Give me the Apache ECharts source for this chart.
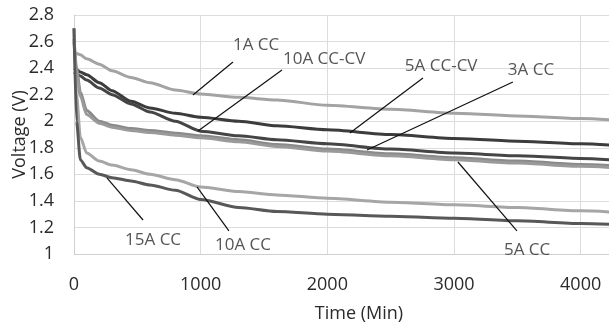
<!DOCTYPE html>
<html>
<head>
<meta charset="utf-8">
<script src="https://cdn.jsdelivr.net/npm/echarts@6/dist/echarts.min.js"></script>
<style>
html,body{margin:0;padding:0;background:#fff;}
#chart{width:609px;height:327px;}
</style>
</head>
<body>
<div id="chart"></div>
<script>
// ---- data ----
var time = [0, 20, 50, 100, 200, 300, 450, 600, 800, 1000, 1300, 1600, 2000, 2500, 3000, 3500, 4000, 4500];
var seriesNames = ['1A CC', '5A CC-CV', '10A CC-CV', '3A CC', '5A CC', '10A CC', '15A CC'];
var v1A_CC   = [2.52, 2.51, 2.50, 2.47, 2.43, 2.38, 2.33, 2.29, 2.235, 2.205, 2.18, 2.16, 2.12, 2.09, 2.06, 2.04, 2.02, 1.99];
var v5A_CCCV = [2.40, 2.39, 2.37, 2.35, 2.29, 2.23, 2.15, 2.10, 2.06, 2.03, 2.00, 1.965, 1.935, 1.90, 1.87, 1.85, 1.83, 1.80];
var v10A_CCCV= [2.37, 2.36, 2.34, 2.31, 2.25, 2.20, 2.13, 2.07, 2.00, 1.925, 1.89, 1.86, 1.83, 1.79, 1.76, 1.74, 1.72, 1.69];
var v3A_CC   = [2.62, 2.40, 2.22, 2.08, 2.00, 1.97, 1.945, 1.93, 1.91, 1.89, 1.86, 1.825, 1.79, 1.755, 1.725, 1.70, 1.675, 1.65];
var v5A_CC   = [2.60, 2.36, 2.19, 2.05, 1.985, 1.955, 1.93, 1.915, 1.895, 1.875, 1.845, 1.81, 1.775, 1.74, 1.71, 1.685, 1.66, 1.635];
var v10A_CC  = [2.70, 2.20, 1.88, 1.76, 1.70, 1.67, 1.635, 1.60, 1.56, 1.505, 1.47, 1.445, 1.42, 1.39, 1.37, 1.35, 1.325, 1.30];
var v15A_CC  = [2.70, 2.00, 1.71, 1.65, 1.60, 1.575, 1.55, 1.52, 1.48, 1.41, 1.35, 1.32, 1.30, 1.285, 1.27, 1.25, 1.23, 1.21];
var yTicks = [1, 1.2, 1.4, 1.6, 1.8, 2, 2.2, 2.4, 2.6, 2.8];
var xTicks = [0, 1000, 2000, 3000, 4000];

// annotation labels: [time, voltage, text]
var annLabels = [
  [1255, 2.574, '1A CC'],
  [1650, 2.469, '10A CC-CV'],
  [2612, 2.412, '5A CC-CV'],
  [3425, 2.386, '3A CC'],
  [403, 1.106, '15A CC'],
  [1113, 1.068, '10A CC'],
  [3394, 1.030, '5A CC']
];
// arrows: [fromTime, fromV, toTime, toV]
var annArrows = [
  [939, 2.198, 1255, 2.446],
  [979, 1.926, 1642, 2.386],
  [2178, 1.911, 2755, 2.326],
  [2313, 1.783, 3465, 2.296],
  [260, 1.573, 545, 1.256],
  [971, 1.505, 1223, 1.174],
  [3031, 1.693, 3497, 1.174]
];

var seriesValues = [v1A_CC, v5A_CCCV, v10A_CCCV, v3A_CC, v5A_CC, v10A_CC, v15A_CC];
var seriesColors = ['#a3a3a3', '#3c3c3c', '#454545', '#8a8a8a', '#9a9a9a', '#a6a6a6', '#585858'];

function pairs(vals){ return time.map(function(t,i){ return [t, vals[i]]; }); }

var FONT = '"Open Sans", sans-serif';
var series = seriesValues.map(function(vals, i){
  return {
    name: seriesNames[i], type: 'line', data: pairs(vals),
    showSymbol: false, smooth: 0.25, smoothMonotone: 'x',
    lineStyle: {color: seriesColors[i], width: 3},
    itemStyle: {color: seriesColors[i]},
    z: 2
  };
});
series.push({
  name: 'annotations', type: 'scatter', symbolSize: 0, silent: true, z: 5,
  data: annLabels,
  label: {show: true, position: 'right', distance: 0, formatter: function(p){ return p.value[2]; },
          color: '#2b2b2b', fontFamily: FONT, fontSize: 17},
  markLine: {
    silent: true, animation: false,
    symbol: ['none', 'triangle'], symbolSize: [0, 8],
    lineStyle: {color: '#111', width: 1.2, type: 'solid'},
    label: {show: false},
    data: annArrows.map(function(a){ return [{coord: [a[0], a[1]]}, {coord: [a[2], a[3]]}]; })
  }
});

var chart = echarts.init(document.getElementById('chart'), null, {renderer: 'canvas'});
chart.setOption({
  animation: false,
  backgroundColor: '#ffffff',
  grid: {left: 74, top: 15, bottom: 73, right: -35, containLabel: false, outerBoundsMode: 'none'},
  xAxis: {
    type: 'value', min: 0, max: 4500, interval: 1000,
    name: 'Time (Min)', nameLocation: 'middle', nameGap: 51, nameMoveOverlap: false,
    nameTextStyle: {color: '#2b2b2b', fontFamily: FONT, fontSize: 18},
    axisLine: {show: true, lineStyle: {color: '#d0d0d0', width: 1}},
    axisTick: {show: false},
    axisLabel: {color: '#2b2b2b', fontFamily: FONT, fontSize: 18, margin: 22,
      formatter: function(v){ return xTicks.indexOf(v) >= 0 ? String(v) : ''; }},
    splitLine: {show: true, lineStyle: {color: '#dcdcdc', width: 1}}
  },
  yAxis: {
    type: 'value', min: 1, max: 2.8, interval: 0.2,
    name: 'Voltage (V)', nameLocation: 'middle', nameGap: 45, nameMoveOverlap: false,
    nameTextStyle: {color: '#2b2b2b', fontFamily: FONT, fontSize: 18},
    axisLine: {show: true, lineStyle: {color: '#d0d0d0', width: 1}},
    axisTick: {show: false},
    axisLabel: {color: '#2b2b2b', fontFamily: FONT, fontSize: 18, margin: 20,
      formatter: function(v){
        var r = Math.round(v*10)/10;
        return yTicks.indexOf(r) >= 0 ? String(r) : '';
      }},
    splitLine: {show: true, lineStyle: {color: '#dcdcdc', width: 1}}
  },
  series: series
});
</script>
</body>
</html>
